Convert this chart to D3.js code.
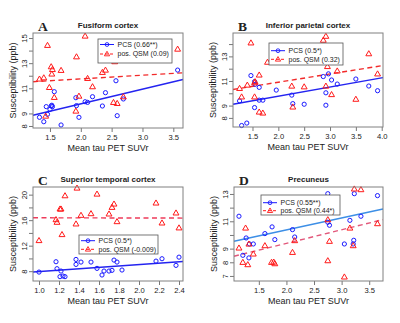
<!DOCTYPE html>
<html>
<head>
<meta charset="utf-8">
<script src="https://cdn.jsdelivr.net/npm/d3@7"></script>
<style>
body { margin: 0; background: #fff; }
text { font-family: "Liberation Sans", Arial, sans-serif; fill: #222; }
</style>
</head>
<body>
<div id="chart"></div>
<script>
// values (tau SUVr vs susceptibility, ppb)
// A: Fusiform cortex
const aPcsX = [1.33, 1.40, 1.68, 1.44, 1.46, 1.50, 1.52, 1.54, 1.53, 1.57, 1.92, 1.93, 1.97, 2.07, 2.11, 2.19, 2.35, 2.40, 2.57, 2.59, 2.69, 3.57];
const aPcsY = [8.69, 8.34, 8.08, 9.54, 8.93, 9.32, 9.59, 9.54, 9.65, 10.73, 10.25, 9.62, 8.69, 9.93, 9.88, 10.33, 9.59, 10.65, 11.6, 8.82, 10.15, 12.45];
const aQsmX = [1.33, 1.40, 1.46, 1.49, 1.52, 1.54, 1.53, 1.57, 1.43, 1.68, 1.92, 1.93, 1.97, 2.07, 2.11, 2.19, 2.35, 2.40, 2.55, 2.53, 2.59, 2.69, 3.57];
const aQsmY = [11.74, 11.84, 14.42, 11.07, 12.72, 12.5, 12.14, 10.28, 8.79, 12.43, 9.19, 13.51, 10.38, 15.16, 11.79, 11.13, 12.27, 12.45, 13.12, 9.88, 9.8, 10.33, 14.12];

// B: Inferior parietal cortex
const bPcsX = [1.25, 1.29, 1.39, 1.47, 1.54, 1.55, 1.54, 1.63, 1.63, 1.70, 1.96, 2.26, 2.28, 2.50, 2.87, 2.92, 2.92, 2.97, 3.03, 3.14, 3.50, 3.75, 3.92];
const bPcsY = [9.38, 7.38, 7.58, 11.44, 8.84, 10.73, 10.95, 10.48, 9.44, 9.44, 10.26, 9.85, 9.16, 9.11, 11.36, 9.03, 10.04, 11.58, 11.08, 10.75, 11.16, 10.59, 10.21];
const bQsmX = [1.25, 1.29, 1.40, 1.47, 1.54, 1.55, 1.54, 1.63, 1.63, 1.70, 1.79, 2.26, 2.28, 2.50, 2.87, 2.92, 2.92, 2.95, 3.03, 3.14, 3.50, 3.75, 3.92];
const bQsmY = [10.4, 9.71, 10.67, 14.1, 10.86, 10.95, 9.71, 11.49, 8.48, 8.4, 12.53, 10.59, 8.89, 10.53, 14.32, 14.64, 10.59, 12.18, 9.9, 11.82, 9.52, 13.22, 11.58];

// C: Superior temporal cortex
const cPcsX = [1.00, 1.17, 1.18, 1.22, 1.21, 1.24, 1.26, 1.37, 1.37, 1.42, 1.52, 1.58, 1.63, 1.65, 1.70, 1.73, 1.75, 1.78, 1.83, 2.17, 2.23, 2.37, 2.40];
const cPcsY = [7.86, 9.48, 8.39, 8.02, 7.14, 7.24, 7.14, 9.84, 9.06, 9.43, 9.43, 8.44, 7.4, 8.02, 8.02, 8.13, 9.74, 9.43, 8.18, 9.58, 9.95, 8.91, 10.2];
const cQsmX = [1.00, 1.17, 1.18, 1.21, 1.22, 1.23, 1.26, 1.37, 1.38, 1.42, 1.52, 1.58, 1.70, 1.73, 1.75, 1.78, 2.17, 2.23, 2.37, 2.40];
const cQsmY = [12.81, 16.09, 15.68, 17.76, 17.76, 13.75, 19.84, 15.42, 21.04, 16.77, 17.03, 20.1, 16.98, 18.02, 18.54, 15.78, 18.7, 15.57, 17.14, 14.8];

// D: Precuneus
const dPcsX = [1.14, 1.21, 1.27, 1.32, 1.33, 1.40, 1.61, 1.74, 1.79, 2.11, 2.15, 2.75, 2.75, 2.78, 3.05, 3.15, 3.21, 3.22, 3.23, 3.35, 3.65];
const dPcsY = [11.37, 8.51, 9.78, 8.32, 9.34, 9.34, 10.1, 10.59, 9.66, 10.39, 9.85, 13.02, 10.93, 10.71, 9.34, 11.07, 9.34, 9.61, 13.02, 11.37, 12.88];
const dQsmX = [1.14, 1.21, 1.26, 1.30, 1.32, 1.40, 1.61, 1.73, 1.77, 1.79, 2.11, 2.15, 2.75, 2.78, 2.75, 3.05, 3.15, 3.21, 3.23, 3.35, 3.65];
const dQsmY = [9.05, 8.0, 10.51, 7.83, 9.34, 8.61, 9.22, 8.0, 8.02, 7.9, 8.73, 9.59, 8.12, 9.54, 11.12, 6.93, 10.51, 9.22, 13.37, 13.32, 10.83];

// fitted lines [intercept, slope]
const pcsFit = [[7.42, 1.17], [8.27, 0.746], [6.82, 1.11], [8.62, 0.874]];
const qsmFit = [[11.17, 0.29], [9.56, 0.67], [16.4, -0.03], [7.40, 0.993]];

const letters = ["A", "B", "C", "D"];
const titles = ["Fusiform cortex", "Inferior parietal cortex", "Superior temporal cortex", "Precuneus"];
const pcsNames = ["PCS (0.66**)", "PCS (0.5*)", "PCS (0.5*)", "PCS (0.55**)"];
const qsmNames = ["pos. QSM (0.09)", "pos. QSM (0.32)", "pos. QSM (-0.009)", "pos. QSM (0.44*)"];

const xTicks = [[1.5, 2, 2.5, 3, 3.5], [1.5, 2, 2.5, 3, 3.5, 4], [1, 1.2, 1.4, 1.6, 1.8, 2, 2.2, 2.4], [1.5, 2, 2.5, 3, 3.5]];
const yTicks = [[8, 9, 10, 11, 12, 13, 14, 15], [8, 9, 10, 11, 12, 13, 14], [8, 10, 12, 14, 16, 18, 20], [7, 8, 9, 10, 11, 12, 13]];
const yLabels = [[8, 9, 11, 13, 15], [8, 9, 11, 13], [8, 12, 16, 20], [7, 8, 9, 11, 13]];

const xDomains = [[1.225, 3.657], [1.123, 4.025], [0.94, 2.44], [1.05, 3.75]];
const yDomains = [[7.84, 15.4], [7.26, 14.9], [6.46, 21.2], [6.63, 13.51]];

// layout
const W = 400, H = 323;
const BOX = [ {x0: 33, x1: 183, y0: 33, y1: 128},
              {x0: 233, x1: 383, y0: 33, y1: 127},
              {x0: 33, x1: 183, y0: 187, y1: 281},
              {x0: 234, x1: 383, y0: 187, y1: 281} ];
const LEG = [ {x: 98, y: 39, w: 74, h: 24, r1: 44.5, r2: 54},
              {x: 269, y: 43, w: 74, h: 22, r1: 50.7, r2: 59.3},
              {x: 79, y: 235, w: 79, h: 19, r1: 240.7, r2: 249.3},
              {x: 261, y: 195, w: 79, h: 20, r1: 202.7, r2: 210.7} ];
const BLUE = "#1a1aff", RED = "#ff1a1a";
const pcsLine = ["#2424f0", "#2424f0", "#2424f0", "#3d8fe6"];
const qsmLine = ["#f22a2a", "#f22a2a", "#ee3b5a", "#e2577a"];

const series = [
  [aPcsX, aPcsY, aQsmX, aQsmY],
  [bPcsX, bPcsY, bQsmX, bQsmY],
  [cPcsX, cPcsY, cQsmX, cQsmY],
  [dPcsX, dPcsY, dQsmX, dQsmY]
];

const svg = d3.select("#chart").append("svg")
  .attr("width", W).attr("height", H);

const tri = d3.symbol().type(d3.symbolTriangle).size(15);

series.forEach((s, i) => drawPanel(i, s));

function drawPanel(i, s) {
  const b = BOX[i];
  const g = svg.append("g");
  const x = d3.scaleLinear().domain(xDomains[i]).range([b.x0, b.x1]);
  const y = d3.scaleLinear().domain(yDomains[i]).range([b.y1, b.y0]);

  // axes
  const xa = g.append("g").attr("transform", `translate(0,${b.y1})`)
    .call(d3.axisBottom(x).tickValues(xTicks[i]).tickSize(4).tickPadding(3)
      .tickFormat(d3.format(".1f")));
  const ya = g.append("g").attr("transform", `translate(${b.x0},0)`)
    .call(d3.axisLeft(y).tickValues(yTicks[i]).tickSize(4)
      .tickFormat(d => yLabels[i].includes(d) ? d : ""));
  [xa, ya].forEach(a => {
    a.select(".domain").remove();
    a.selectAll("line").attr("stroke", "#777");
    a.selectAll("text").style("font-size", "7.6px")
      .style("font-family", "'Liberation Sans', Arial, sans-serif").attr("fill", "#333");
  });
  xa.selectAll("text").attr("dy", "0.71em");
  ya.selectAll("text")
    .attr("transform", "rotate(-90)")
    .attr("x", 0).attr("y", -6.5).attr("dy", 0)
    .attr("text-anchor", "middle");

  // regression lines
  const line = d3.line().x(d => x(d)).y((d, k) => y(d.fit[0] + d.fit[1] * d));
  const xs = xDomains[i];
  const drawFit = (fit, color, dash) => {
    g.append("line")
      .attr("x1", x(xs[0])).attr("y1", y(fit[0] + fit[1] * xs[0]))
      .attr("x2", x(xs[1])).attr("y2", y(fit[0] + fit[1] * xs[1]))
      .attr("stroke", color).attr("stroke-width", 1.4)
      .attr("stroke-dasharray", dash);
  };
  drawFit(pcsFit[i], pcsLine[i], null);
  drawFit(qsmFit[i], qsmLine[i], "5,3.5");

  // points
  g.append("g").selectAll("circle")
    .data(d3.zip(s[0], s[1])).enter().append("circle")
    .attr("cx", d => x(d[0])).attr("cy", d => y(d[1])).attr("r", 2.1)
    .attr("fill", "none").attr("stroke", BLUE).attr("stroke-width", 1);
  g.append("g").selectAll("path")
    .data(d3.zip(s[2], s[3])).enter().append("path")
    .attr("d", tri)
    .attr("transform", d => `translate(${x(d[0])},${y(d[1]) + 0.4})`)
    .attr("fill", "none").attr("stroke", RED).attr("stroke-width", 1);

  // box
  g.append("rect")
    .attr("x", b.x0).attr("y", b.y0)
    .attr("width", b.x1 - b.x0).attr("height", b.y1 - b.y0)
    .attr("fill", "none").attr("stroke", "#808080").attr("stroke-width", 1);

  // legend
  const L = LEG[i];
  const lg = g.append("g");
  lg.append("rect").attr("x", L.x).attr("y", L.y).attr("width", L.w).attr("height", L.h)
    .attr("fill", "#fff").attr("stroke", "#555").attr("stroke-width", 0.8);
  lg.append("line").attr("x1", L.x + 2).attr("x2", L.x + 16).attr("y1", L.r1).attr("y2", L.r1)
    .attr("stroke", BLUE).attr("stroke-width", 1);
  lg.append("circle").attr("cx", L.x + 9).attr("cy", L.r1).attr("r", 1.9)
    .attr("fill", "none").attr("stroke", BLUE).attr("stroke-width", 0.9);
  lg.append("line").attr("x1", L.x + 2).attr("x2", L.x + 16).attr("y1", L.r2).attr("y2", L.r2)
    .attr("stroke", RED).attr("stroke-width", 1).attr("stroke-dasharray", "3,2");
  lg.append("path").attr("d", d3.symbol().type(d3.symbolTriangle).size(12))
    .attr("transform", `translate(${L.x + 9},${L.r2 + 0.3})`)
    .attr("fill", "none").attr("stroke", RED).attr("stroke-width", 0.9);
  lg.append("text").attr("x", L.x + 19.5).attr("y", L.r1).attr("dy", "0.35em")
    .style("font-size", "7px").text(pcsNames[i]);
  lg.append("text").attr("x", L.x + 19.5).attr("y", L.r2).attr("dy", "0.35em")
    .style("font-size", "7px").text(qsmNames[i]);

  // titles and labels
  const cx = (b.x0 + b.x1) / 2;
  g.append("text").attr("x", cx).attr("y", b.y0 - 5)
    .attr("text-anchor", "middle").style("font-size", "8px").style("font-weight", "bold")
    .attr("fill", "#111").text(titles[i]);
  g.append("text").attr("x", b.x0 + 5).attr("y", b.y0 - 2)
    .style("font-family", "'Liberation Serif', 'Times New Roman', serif")
    .style("font-size", "13.5px").style("font-weight", "bold").attr("fill", "#111")
    .text(letters[i]);
  g.append("text").attr("x", cx).attr("y", b.y1 + 23)
    .attr("text-anchor", "middle").style("font-size", "9px").attr("fill", "#333")
    .text("Mean tau PET SUVr");
  g.append("text")
    .attr("transform", `translate(${b.x0 - 17.5},${(b.y0 + b.y1) / 2}) rotate(-90)`)
    .attr("text-anchor", "middle").style("font-size", "9px").attr("fill", "#333")
    .text("Susceptibility (ppb)");
}
</script>
</body>
</html>
